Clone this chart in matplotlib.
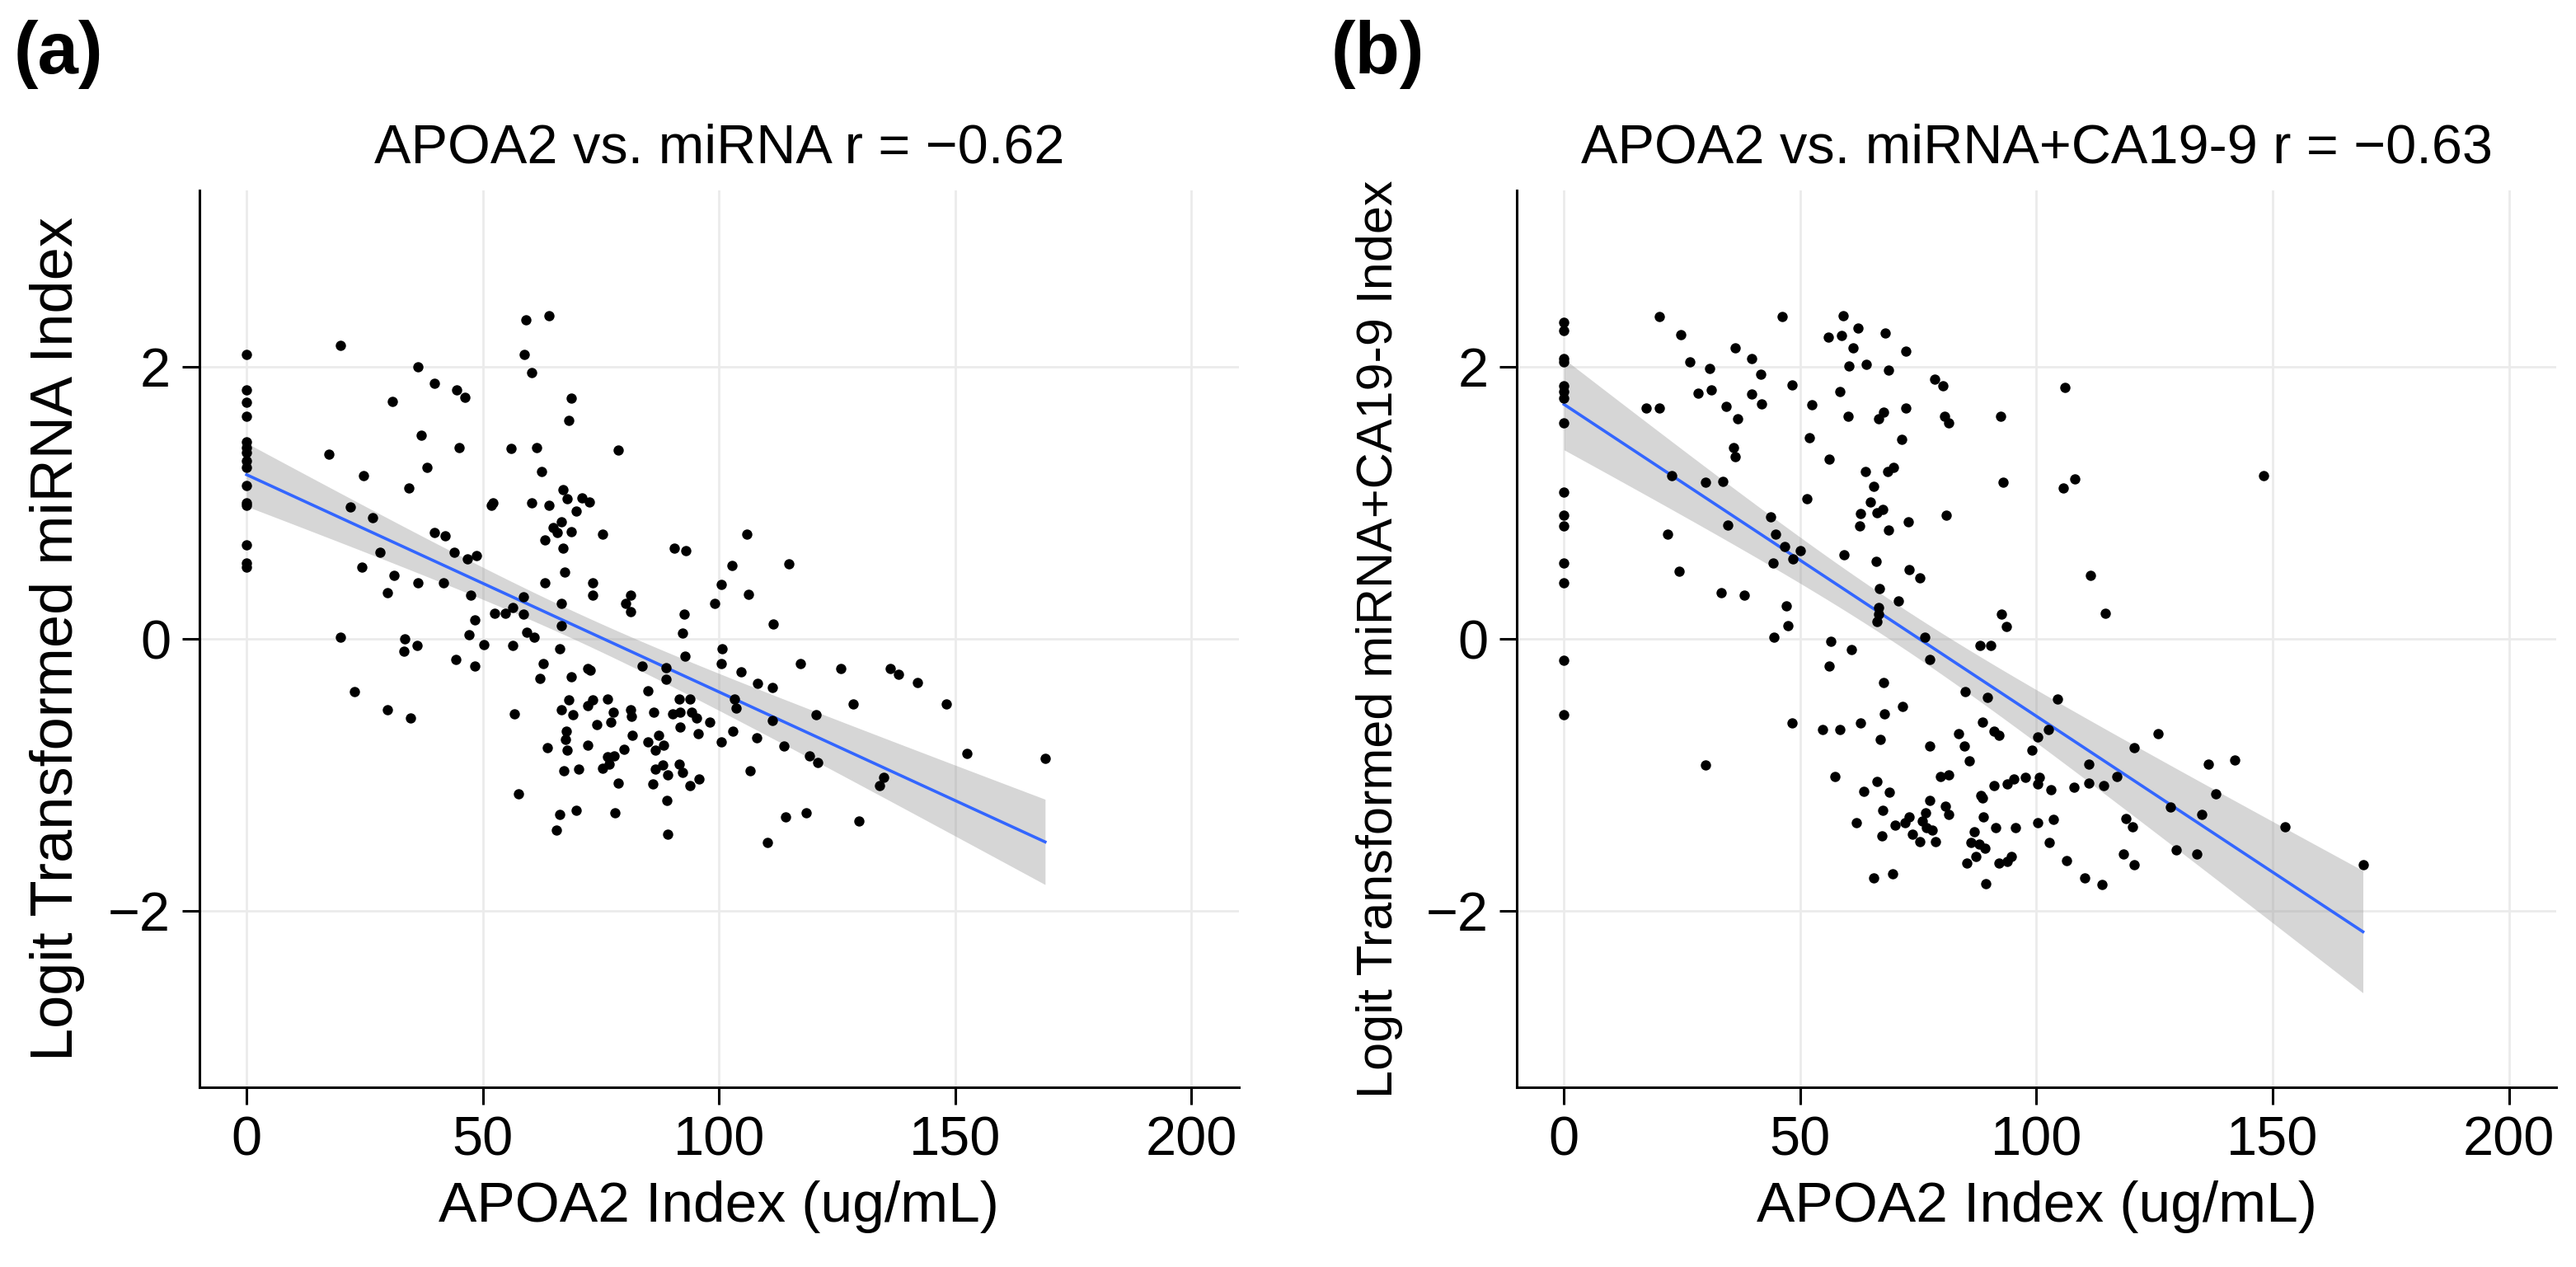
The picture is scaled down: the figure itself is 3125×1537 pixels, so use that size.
import numpy as np
import matplotlib
matplotlib.use("Agg")
import matplotlib.pyplot as plt

plt.rcParams['font.family'] = ['Liberation Sans', 'DejaVu Sans']

# panel (a): APOA2 index vs logit transformed miRNA index
apoa2_a = [0] * 15 + [
    19.9, 36.2, 39.7, 30.9, 44.5, 46.2, 36.9, 44.9, 17.5, 38.1,
    24.7, 34.3, 22.0, 26.7, 39.8, 42.1, 28.3, 44.0, 46.8, 48.7,
    24.4, 31.2, 36.2, 41.7, 29.8, 47.4, 48.3, 47.1, 19.9, 33.5,
    33.3, 36.0, 50.3, 44.2, 48.3, 22.9, 29.8, 34.6, 51.7, 52.2,
    59.1, 64.0, 58.8, 60.3, 68.7, 68.1, 55.9, 61.4, 78.6, 62.4,
    66.9, 67.9, 71.0, 72.5, 60.4, 64.0, 69.8, 66.6, 64.9, 65.8,
    68.7, 75.4, 63.1, 66.9, 67.4, 63.1, 73.2, 73.2, 81.2, 80.3,
    81.2, 58.6, 56.4, 54.7, 52.5, 58.6, 66.6, 66.6, 59.3, 60.8,
    56.3, 66.2, 62.7, 62.0, 68.7, 72.2, 72.8, 83.7, 85.0, 68.1,
    72.2, 73.3, 66.6, 69.1, 76.4, 77.6, 81.2, 81.5, 86.2, 56.6,
    74.2, 77.1, 67.6, 67.5, 81.6, 85.0, 63.7, 67.8, 72.2, 79.9,
    86.5, 76.3, 77.7, 75.4, 76.8, 67.1, 70.3, 86.5, 78.6, 85.9,
    57.6, 66.2, 69.8, 78.0, 65.6, 90.6, 92.9, 105.9, 102.7, 114.8,
    100.4, 106.2, 99.1, 92.6, 92.2, 111.5, 100.7, 92.8, 100.4, 104.7,
    88.8, 88.7, 117.3, 125.8, 136.3, 137.9, 142.0, 108.1, 111.3, 91.6,
    93.9, 103.2, 103.6, 128.3, 148.1, 120.6, 90.1, 91.7, 94.2, 95.3,
    98.0, 91.8, 111.3, 95.5, 102.9, 87.2, 88.3, 100.4, 107.9, 113.8,
    119.1, 120.8, 152.4, 169.0, 88.1, 89.1, 91.6, 92.2, 106.5, 93.9,
    95.8, 134.9, 134.0, 89.0, 114.1, 118.5, 129.6, 89.2, 110.3,
]
mirna_a = [
    2.09, 1.83, 1.74, 1.64, 1.45, 1.41, 1.37, 1.31, 1.26, 1.13,
    1.00, 0.98, 0.69, 0.56, 0.53,
    2.16, 2.00, 1.88, 1.75, 1.83, 1.78, 1.50, 1.41, 1.36, 1.26,
    1.20, 1.11, 0.97, 0.89, 0.78, 0.76, 0.64, 0.64, 0.59, 0.61,
    0.53, 0.47, 0.41, 0.41, 0.34, 0.32, 0.14, 0.03, 0.01, 0.00,
    -0.09, -0.05, -0.04, -0.15, -0.20, -0.39, -0.52, -0.58, 0.98, 1.00,
    2.35, 2.38, 2.09, 1.96, 1.77, 1.61, 1.40, 1.41, 1.39, 1.23,
    1.10, 1.03, 1.04, 1.01, 1.00, 0.98, 0.94, 0.86, 0.82, 0.78,
    0.79, 0.77, 0.73, 0.67, 0.49, 0.41, 0.41, 0.32, 0.32, 0.26,
    0.20, 0.31, 0.23, 0.19, 0.19, 0.18, 0.26, 0.10, 0.05, 0.01,
    -0.05, -0.07, -0.18, -0.29, -0.28, -0.22, -0.23, -0.20, -0.38, -0.45,
    -0.49, -0.45, -0.52, -0.56, -0.44, -0.54, -0.52, -0.57, -0.54, -0.55,
    -0.63, -0.61, -0.68, -0.74, -0.71, -0.76, -0.80, -0.82, -0.78, -0.81,
    -0.82, -0.87, -0.86, -0.95, -0.92, -0.97, -0.96, -0.96, -1.06, -1.07,
    -1.14, -1.29, -1.26, -1.28, -1.41, 0.67, 0.65, 0.77, 0.54, 0.55,
    0.40, 0.33, 0.26, 0.18, 0.04, 0.11, -0.07, -0.13, -0.18, -0.24,
    -0.21, -0.30, -0.18, -0.22, -0.22, -0.26, -0.32, -0.33, -0.36, -0.44,
    -0.44, -0.44, -0.51, -0.48, -0.48, -0.56, -0.55, -0.54, -0.54, -0.58,
    -0.61, -0.65, -0.60, -0.70, -0.68, -0.71, -0.78, -0.76, -0.73, -0.79,
    -0.86, -0.91, -0.84, -0.88, -0.93, -1.00, -0.92, -0.98, -0.97, -1.08,
    -1.03, -1.02, -1.08, -1.19, -1.31, -1.28, -1.34, -1.44, -1.50,
]

# panel (b): APOA2 index vs logit transformed miRNA+CA19-9 index
apoa2_b = [0] * 15 + [
    20.1, 46.1, 24.8, 26.7, 30.8, 36.2, 39.7, 41.6, 28.3, 31.2,
    39.7, 41.9, 17.4, 20.1, 34.3, 36.7, 48.3, 35.9, 36.2, 22.8,
    29.9, 33.6, 21.9, 34.7, 43.8, 44.8, 46.7, 48.5, 50.1, 44.2,
    24.4, 33.3, 38.1, 47.0, 47.4, 44.5, 29.9, 48.3, 59.1, 62.3,
    56.0, 58.8, 61.2, 68.0, 72.4, 60.3, 64.0, 68.7, 58.4, 52.4,
    60.1, 66.6, 67.7, 72.4, 78.5, 80.2, 80.5, 81.4, 52.0, 71.5,
    56.2, 63.8, 68.6, 69.8, 65.5, 64.8, 66.3, 67.4, 62.8, 62.6,
    68.7, 72.8, 80.9, 51.5, 59.3, 66.1, 73.0, 75.3, 66.7, 70.8,
    66.6, 66.6, 66.3, 76.3, 77.4, 56.4, 60.8, 56.2, 67.6, 84.9,
    71.7, 67.9, 62.8, 54.7, 58.4, 67.0, 83.5, 84.8, 85.8, 77.4,
    57.4, 66.3, 63.4, 68.9, 79.7, 81.4, 77.4, 67.4, 80.8, 81.4,
    61.9, 73.0, 72.1, 70.1, 76.5, 75.9, 76.7, 77.9, 73.8, 75.3,
    78.6, 67.3, 85.3, 65.5, 69.5, 92.4, 106.0, 92.9, 105.6, 108.2,
    148.1, 111.4, 114.6, 92.6, 93.6, 88.1, 90.4, 89.7, 104.4, 88.5,
    91.1, 92.0, 100.3, 102.5, 99.0, 125.7, 120.6, 136.3, 142.0, 111.1,
    117.1, 91.0, 93.8, 95.2, 97.7, 100.6, 100.3, 103.1, 107.9, 111.1,
    114.3, 137.9, 88.2, 88.5, 128.3, 135.0, 152.6, 88.8, 91.3, 95.5,
    100.3, 103.5, 119.0, 120.3, 86.8, 86.2, 87.9, 89.1, 102.7, 87.1,
    92.0, 93.8, 94.6, 106.3, 118.4, 120.6, 129.6, 134.0, 169.1, 89.2,
    110.2, 113.9,
]
combo_b = [
    2.33, 2.27, 2.06, 2.04, 1.86, 1.82, 1.77, 1.59, 1.08, 0.91,
    0.83, 0.56, 0.41, -0.16, -0.56,
    2.37, 2.37, 2.24, 2.04, 1.99, 2.14, 2.06, 1.95, 1.81, 1.83,
    1.80, 1.73, 1.70, 1.70, 1.71, 1.62, 1.87, 1.41, 1.34, 1.20,
    1.15, 1.16, 0.77, 0.84, 0.90, 0.77, 0.68, 0.59, 0.65, 0.56,
    0.50, 0.34, 0.32, 0.24, 0.10, 0.01, -0.93, -0.62, 2.38, 2.29,
    2.22, 2.23, 2.14, 2.25, 2.12, 2.01, 2.02, 1.98, 1.82, 1.72,
    1.64, 1.62, 1.67, 1.70, 1.91, 1.86, 1.64, 1.59, 1.48, 1.47,
    1.32, 1.23, 1.23, 1.26, 1.12, 1.01, 0.93, 0.95, 0.92, 0.83,
    0.80, 0.86, 0.91, 1.03, 0.62, 0.57, 0.51, 0.45, 0.37, 0.28,
    0.23, 0.18, 0.13, 0.01, -0.15, -0.02, -0.08, -0.20, -0.32, -0.39,
    -0.50, -0.55, -0.62, -0.67, -0.67, -0.74, -0.70, -0.79, -0.90, -0.79,
    -1.01, -1.05, -1.12, -1.13, -1.01, -1.00, -1.19, -1.26, -1.23, -1.29,
    -1.35, -1.31, -1.35, -1.37, -1.28, -1.34, -1.39, -1.41, -1.44, -1.49,
    -1.49, -1.45, -1.65, -1.76, -1.73, 1.64, 1.85, 1.15, 1.11, 1.18,
    1.20, 0.47, 0.19, 0.18, 0.09, -0.05, -0.05, -0.43, -0.44, -0.61,
    -0.68, -0.71, -0.72, -0.67, -0.82, -0.70, -0.80, -0.92, -0.89, -0.92,
    -1.01, -1.08, -1.07, -1.03, -1.02, -1.02, -1.07, -1.11, -1.09, -1.06,
    -1.08, -1.14, -1.15, -1.17, -1.24, -1.29, -1.38, -1.31, -1.39, -1.39,
    -1.35, -1.33, -1.32, -1.38, -1.42, -1.50, -1.51, -1.54, -1.50, -1.60,
    -1.65, -1.64, -1.60, -1.63, -1.58, -1.66, -1.55, -1.58, -1.66, -1.80,
    -1.76, -1.81,
]

titles = ["APOA2 vs. miRNA r = \u22120.62", "APOA2 vs. miRNA+CA19-9 r = \u22120.63"]
ylabels = ["Logit Transformed miRNA Index", "Logit Transformed miRNA+CA19-9 Index"]
panel_tags = ["(a)", "(b)"]
x_ticks = [0, 50, 100, 150, 200]
y_ticks = [-2, 0, 2]


def lm_band(x, y, grid, t=1.972):
    """linear fit with 95% confidence band, like geom_smooth(method='lm')"""
    slope, icpt = np.polyfit(x, y, 1)
    n = len(x)
    resid = y - (icpt + slope * x)
    s = np.sqrt(np.sum(resid ** 2) / (n - 2))
    sxx = np.sum((x - x.mean()) ** 2)
    fit = icpt + slope * grid
    se = s * np.sqrt(1.0 / n + (grid - x.mean()) ** 2 / sxx)
    return fit, fit - t * se, fit + t * se


fig = plt.figure(figsize=(15.625, 7.685), dpi=200)
lefts = [0.0774, 0.5888]
ylab_size = [26, 22]

for i, (xs, ys) in enumerate([(apoa2_a, mirna_a), (apoa2_b, combo_b)]):
    x = np.array(xs, dtype=float)
    y = np.array(ys, dtype=float)
    ax = fig.add_axes([lefts[i], 0.1418, 0.4035, 0.7079])

    grid = np.linspace(x.min(), x.max(), 80)
    fit, lo, hi = lm_band(x, y, grid)
    ax.fill_between(grid, lo, hi, color='#999999', alpha=0.4, lw=0, zorder=2)
    ax.plot(grid, fit, color='#3366FF', lw=1.3, zorder=3)
    ax.scatter(x, y, s=20, color='black', lw=0, zorder=4)

    ax.set_xlim(-10, 210)
    ax.set_ylim(-3.3, 3.3)
    ax.set_xticks(x_ticks)
    ax.set_yticks(y_ticks)
    ax.grid(True, color='#ebebeb', lw=1.0, zorder=0)
    ax.set_axisbelow(True)
    for side in ['top', 'right']:
        ax.spines[side].set_visible(False)
    for side in ['left', 'bottom']:
        ax.spines[side].set_linewidth(1.1)
    ax.tick_params(direction='out', length=7.5, width=1.1, labelsize=24, pad=5)

    ax.set_title(titles[i], fontsize=24, pad=12)
    ax.set_xlabel("APOA2 Index (ug/mL)", fontsize=25, labelpad=6)
    ax.set_ylabel(ylabels[i], fontsize=ylab_size[i], labelpad=10)

    fig.text(lefts[i] - 0.072, 0.957, panel_tags[i], fontsize=32,
             fontweight='bold', va='center', ha='left')

fig.savefig("out.png", dpi=200)
